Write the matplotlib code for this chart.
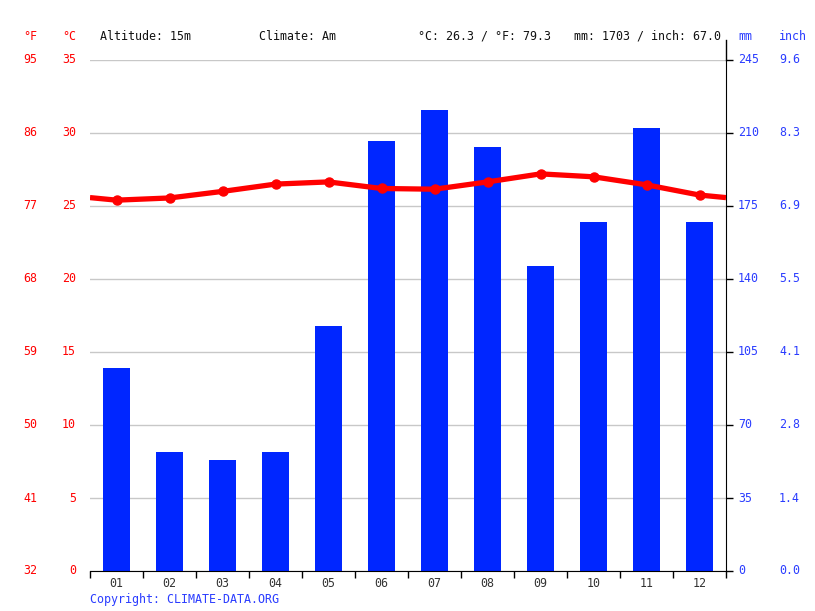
import matplotlib
matplotlib.use("Agg")
import matplotlib.pyplot as plt
import matplotlib.transforms as mtransforms
from matplotlib.lines import Line2D

months = ["01", "02", "03", "04", "05", "06", "07", "08", "09", "10", "11", "12"]
precip_mm = [97.3, 57.1, 53.2, 57.1, 117.5, 206.2, 221.0, 203.3, 146.2, 167.3, 212.4, 167.3]
temp_c = [25.4, 25.55, 26.0, 26.5, 26.65, 26.2, 26.15, 26.65, 27.2, 27.0, 26.45, 25.75]

c_ticks = [0, 5, 10, 15, 20, 25, 30, 35]
f_labels = ["32", "41", "50", "59", "68", "77", "86", "95"]
mm_labels = ["0", "35", "70", "105", "140", "175", "210", "245"]
inch_labels = ["0.0", "1.4", "2.8", "4.1", "5.5", "6.9", "8.3", "9.6"]

header_left = ["Altitude: 15m", "Climate: Am"]
header_right = ["°C: 26.3 / °F: 79.3", "mm: 1703 / inch: 67.0"]

RED = "#ff0000"
BLUE = "#0026ff"
LBLUE = "#2a3cff"
FONT = "DejaVu Sans Mono"
FS = 8.4

W, H = 815, 611
fig = plt.figure(figsize=(W / 100, H / 100), dpi=100)
L, R, T, B = 90, 726, 60, 571
ax = fig.add_axes([L / W, (H - B) / H, (R - L) / W, (B - T) / H])

x = list(range(1, 13))
ax.bar(x, precip_mm, width=0.51, color=BLUE, zorder=2)
ax.set_xlim(0.5, 12.5)
ax.set_ylim(0, 245)
mm_ticks = [c * 7 for c in c_ticks]
ax.set_yticks(mm_ticks)
ax.yaxis.grid(True, color="#c8c8c8", lw=1)
ax.set_axisbelow(True)
for s in ["top", "left"]:
    ax.spines[s].set_visible(False)
ax.spines["right"].set_color("black")
ax.spines["bottom"].set_color("black")
ax.set_xticks([i + 0.5 for i in range(0, 13)])
ax.tick_params(axis="x", direction="out", length=5, width=1, labelbottom=False)
ax.set_xticks(x, minor=True)
ax.set_xticklabels(months, minor=True, fontfamily=FONT, fontsize=FS, color="#333333")
ax.tick_params(axis="x", which="minor", length=0, pad=4)

# right spine extension above plot
ax.add_line(Line2D([1, 1], [1, 1 + 20 / (B - T)], transform=ax.transAxes, color="black", lw=1, clip_on=False))

ax2 = ax.twinx()
ax2.set_ylim(0, 35)
ax2.axis("off")
edge = (temp_c[0] + temp_c[-1]) / 2
ax2.plot([0.5] + x + [12.5], [edge] + temp_c + [edge], color=RED, lw=3.8, zorder=3, solid_capstyle="butt")
ax2.plot(x, temp_c, "o", color=RED, ms=6.5, zorder=4)
ax2.set_xlim(0.5, 12.5)

# ticks on the right side of the bar axes (after twinx, which resets them)
ax.yaxis.tick_right()
ax.tick_params(axis="y", which="both", left=False, right=True, direction="out", length=5, width=1,
               color="black", labelright=False, labelleft=False)

def px_x(px):
    return (px - L) / (R - L)

trans_c = mtransforms.blended_transform_factory(ax.transAxes, ax2.transData)
for c, f, mm, inch in zip(c_ticks, f_labels, mm_labels, inch_labels):
    ax2.text(px_x(37), c, f, transform=trans_c, ha="right", va="center", color=RED, fontfamily=FONT, fontsize=FS, clip_on=False)
    ax2.text(px_x(76), c, str(c), transform=trans_c, ha="right", va="center", color=RED, fontfamily=FONT, fontsize=FS, clip_on=False)
    ax2.text(px_x(738), c, mm, transform=trans_c, ha="left", va="center", color=LBLUE, fontfamily=FONT, fontsize=FS, clip_on=False)
    ax2.text(px_x(779), c, inch, transform=trans_c, ha="left", va="center", color=LBLUE, fontfamily=FONT, fontsize=FS, clip_on=False)

def ftext(px, py, s, color, ha="left"):
    fig.text(px / W, 1 - py / H, s, ha=ha, va="center", color=color, fontfamily=FONT, fontsize=FS)

ftext(37, 36, "°F", RED, ha="right")
ftext(76, 36, "°C", RED, ha="right")
ftext(100, 36, header_left[0], "#111111")
ftext(259, 36, header_left[1], "#111111")
ftext(418, 36, header_right[0], "#111111")
ftext(721, 36, header_right[1], "#111111", ha="right")
ftext(738, 36, "mm", LBLUE)
ftext(779, 36, "inch", LBLUE)
ftext(90, 599, "Copyright: CLIMATE-DATA.ORG", LBLUE)

fig.savefig("out.png", dpi=100)
